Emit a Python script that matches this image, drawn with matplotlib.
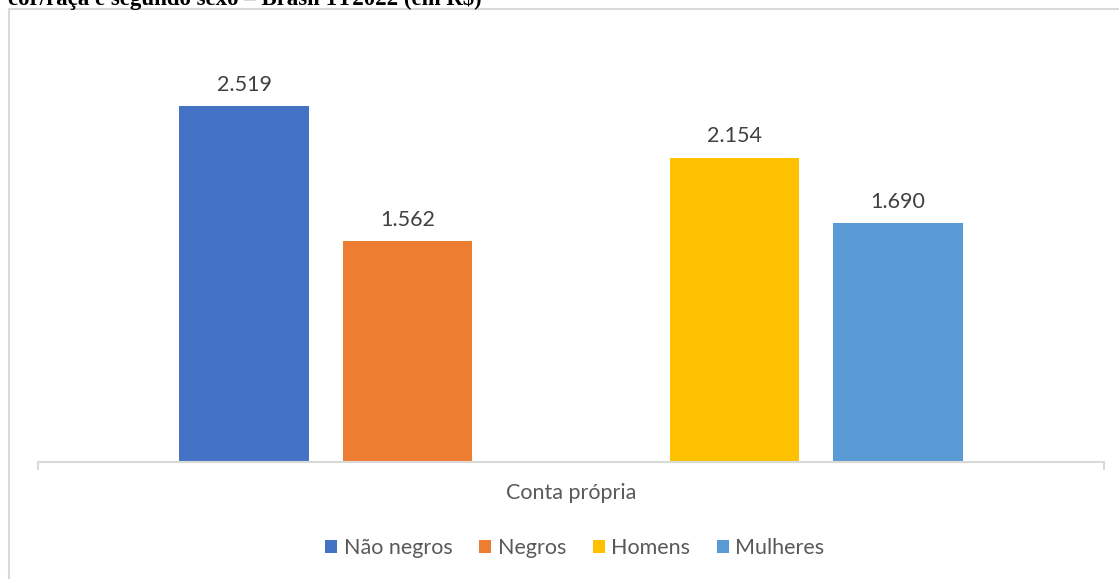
import numpy as np
import matplotlib.pyplot as plt
from matplotlib.patches import Rectangle

# Rendimento médio dos trabalhadores por conta própria
categoria = "Conta própria"
series = ["Não negros", "Negros", "Homens", "Mulheres"]
valores = [2519, 1562, 2154, 1690]
cores = ["#4472C4", "#ED7D31", "#FFC000", "#5B9BD5"]
titulo = "cor/raça e segundo sexo – Brasil 1T2022 (em R$)"

plt.rcParams['font.family'] = ['Lato', 'DejaVu Sans']

W, H = 1119, 579
fig = plt.figure(figsize=(W / 100, H / 100), dpi=100)

# titulo cortado no topo
fig.text(8 / W, 1 - 5 / H, titulo, family='Liberation Serif', weight='bold',
         fontsize=16.5, color='black', ha='left', va='baseline')

# moldura do grafico
fig.patches.append(Rectangle((8.5 / W, -0.1), 1.2, 1 - 9.5 / H + 0.1,
                             transform=fig.transFigure, fill=False,
                             edgecolor='#d9d9d9', linewidth=1.5))

ax = fig.add_axes([38 / W, 1 - 462 / H, (1104 - 38) / W, (462 - 38) / H])

# duas series de cor/raca, uma posicao vazia, duas de sexo
pos = np.r_[np.arange(2), np.arange(2) + 3]
bars = ax.bar(pos, valores, width=0.79, color=cores, label=series)

for b, v in zip(bars, valores):
    ax.annotate(f"{v / 1000:.3f}", (b.get_x() + b.get_width() / 2, v),
                xytext=(0, 8), textcoords='offset points',
                ha='center', va='bottom', fontsize=15.5, color='#404040')

centro = pos.mean()
meia = 1066 / 163.5 / 2
ax.set_xlim(centro - meia, centro + meia)
ax.set_ylim(0, 3000)

for s in ['top', 'right', 'left']:
    ax.spines[s].set_visible(False)
ax.spines['bottom'].set_color('#d9d9d9')
ax.spines['bottom'].set_linewidth(1.5)
ax.set_yticks([])
ax.set_xticks([centro - meia, centro + meia])
ax.set_xticklabels([])
ax.tick_params(axis='x', direction='out', length=6, width=1.5, color='#d9d9d9')

fig.text(571 / W, 1 - 493 / H, categoria, ha='center', va='center',
         fontsize=15.5, color='#595959')

fig.legend(handles=bars, labels=series, loc='center', bbox_to_anchor=(575 / W, 1 - 548 / H),
           ncol=4, frameon=False, fontsize=15.5, labelcolor='#595959',
           handlelength=0.55, handleheight=0.55, handletextpad=0.3, columnspacing=1.25)

fig.savefig('out.png', dpi=100)
